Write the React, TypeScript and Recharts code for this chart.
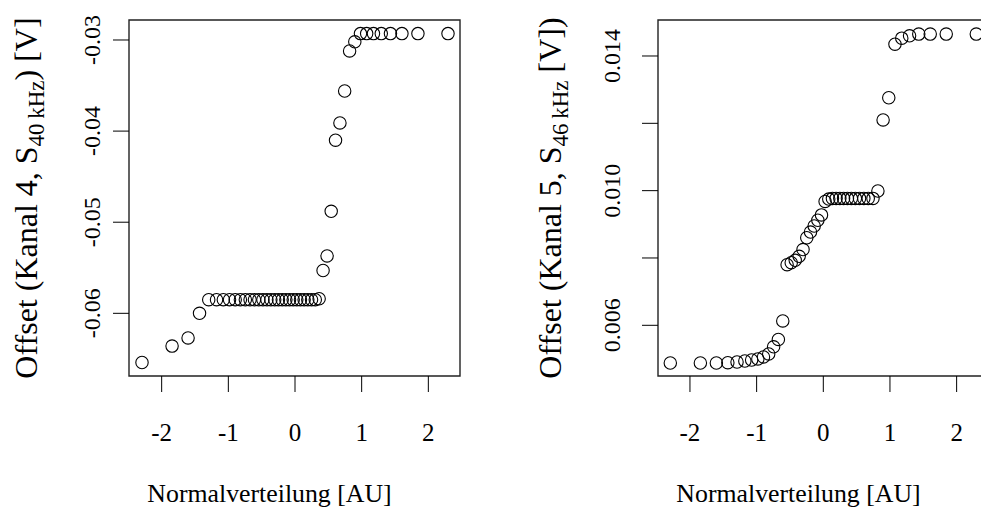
import React from "react";
import {
  ScatterChart,
  Scatter,
  XAxis,
  YAxis,
  ReferenceArea,
} from "recharts";

// theoretical normal quantiles (n = 46)
const quantiles = [
  -2.295, -1.844, -1.604, -1.432, -1.294, -1.177, -1.075, -0.982, -0.897, -0.819,
  -0.745, -0.674, -0.608, -0.543, -0.481, -0.421, -0.362, -0.304, -0.248, -0.192,
  -0.137, -0.082, -0.027, 0.027, 0.082, 0.137, 0.192, 0.248, 0.304, 0.362, 0.421,
  0.481, 0.543, 0.608, 0.674, 0.745, 0.819, 0.897, 0.982, 1.075, 1.177, 1.294,
  1.432, 1.604, 1.844, 2.295,
];

// sorted offsets, Kanal 4
const kanal4 = [
  -0.0654, -0.0636, -0.0627, -0.06, -0.0585, -0.0585, -0.0585, -0.0585, -0.0585,
  -0.0585, -0.0585, -0.0585, -0.0585, -0.0585, -0.0585, -0.0585, -0.0585, -0.0585,
  -0.0585, -0.0585, -0.0585, -0.0585, -0.0585, -0.0585, -0.0585, -0.0585, -0.0585,
  -0.0585, -0.0585, -0.0584, -0.0553, -0.0537, -0.0488, -0.041, -0.0391, -0.0356,
  -0.0312, -0.0302, -0.0293, -0.0293, -0.0293, -0.0293, -0.0293, -0.0293, -0.0293,
  -0.0293,
];

// sorted offsets, Kanal 5
const kanal5 = [
  0.00488, 0.00488, 0.00488, 0.00489, 0.00491, 0.00494, 0.00497, 0.005, 0.00506,
  0.00515, 0.00536, 0.00558, 0.00613, 0.0078, 0.00786, 0.00793, 0.00805, 0.00825,
  0.0086, 0.00877, 0.00895, 0.00912, 0.00928, 0.00968, 0.00975, 0.00977, 0.00977,
  0.00977, 0.00977, 0.00977, 0.00977, 0.00977, 0.00977, 0.00977, 0.00977, 0.00977,
  0.00999, 0.0121, 0.01276, 0.01435, 0.01453, 0.0146, 0.01465, 0.01465, 0.01465,
  0.01465,
];

const xTicks = [-2, -1, 0, 1, 2];
const yTicks4 = [-0.06, -0.05, -0.04, -0.03];
const yTicks5 = [0.006, 0.008, 0.01, 0.012, 0.014];
const yLabels5: Record<string, string> = { "0.006": "0.006", "0.01": "0.010", "0.014": "0.014" };

const FONT = "'Liberation Serif', 'Times New Roman', serif";
const FS = 24;

const data4 = quantiles.map((x, i) => ({ x, y: kanal4[i] }));
const data5 = quantiles.map((x, i) => ({ x, y: kanal5[i] }));

const ring = (p: any) => (
  <circle cx={p.cx} cy={p.cy} r={6.2} fill="none" stroke="#000" strokeWidth={1.1} />
);

const XTick = (p: any) => (
  <text x={p.x} y={p.y + 49} textAnchor="middle" fontFamily={FONT} fontSize={25} fill="#000">
    {p.payload.value}
  </text>
);

const makeYTick = (gap: number, fmt: (v: number) => string) => (p: any) => {
  const x = p.x - gap;
  return (
    <text
      x={x}
      y={p.y}
      transform={`rotate(-90 ${x} ${p.y})`}
      textAnchor="middle"
      fontFamily={FONT}
      fontSize={FS}
      fill="#000"
    >
      {fmt(p.payload.value)}
    </text>
  );
};

const xTitle = (props: any) => {
  const vb = props.viewBox;
  return (
    <text x={vb.x + vb.width / 2 - 25} y={502} textAnchor="middle" fontFamily={FONT} fontSize={25.8} fill="#000">
      Normalverteilung [AU]
    </text>
  );
};

const yTitle = (baseX: number, kanal: string, freq: string, tail: string) => (props: any) => {
  const vb = props.viewBox;
  const cy = vb.y + vb.height / 2;
  return (
    <text
      x={baseX}
      y={cy}
      transform={`rotate(-90 ${baseX} ${cy})`}
      textAnchor="middle"
      fontFamily={FONT}
      fontSize={32}
      fill="#000"
    >
      <tspan>{`Offset (Kanal ${kanal}, S`}</tspan>
      <tspan dy={7} fontSize={23}>{`${freq}\u2009kHz`}</tspan>
      <tspan dy={-7}>{tail}</tspan>
    </text>
  );
};

function QQPanel(props: {
  data: { x: number; y: number }[];
  width: number;
  yAxisWidth: number;
  right: number;
  xDomain: [number, number];
  yDomain: [number, number];
  yTicks: number[];
  yTick: any;
  title: any;
}) {
  const { data, width, yAxisWidth, right, xDomain, yDomain, yTicks, yTick, title } = props;
  return (
    <ScatterChart
      width={width}
      height={513}
      margin={{ top: 20, right, bottom: 0, left: 0 }}
    >
      <XAxis
        type="number"
        dataKey="x"
        domain={xDomain}
        ticks={xTicks}
        allowDataOverflow
        height={137}
        axisLine={false}
        tickSize={16}
        tickMargin={0}
        tickLine={{ stroke: "#000", strokeWidth: 1 }}
        tick={<XTick />}
        label={{ content: xTitle }}
      />
      <YAxis
        type="number"
        dataKey="y"
        domain={yDomain}
        ticks={yTicks}
        allowDataOverflow
        width={yAxisWidth}
        axisLine={false}
        tickSize={16}
        tickMargin={0}
        tickLine={{ stroke: "#000", strokeWidth: 1 }}
        tick={yTick}
        label={{ content: title }}
      />
      <ReferenceArea
        x1={xDomain[0]}
        x2={xDomain[1]}
        y1={yDomain[0]}
        y2={yDomain[1]}
        fill="none"
        stroke="#222"
        strokeWidth={1.4}
        fillOpacity={0}
        ifOverflow="visible"
      />
      <Scatter data={data} shape={ring} isAnimationActive={false} />
    </ScatterChart>
  );
}

export default function App() {
  return (
    <div
      style={{
        position: "fixed",
        left: 0,
        top: 0,
        width: 981,
        height: 513,
        overflow: "hidden",
        background: "#fff",
      }}
    >
      <div style={{ position: "absolute", left: 0, top: 0 }}>
        <QQPanel
          data={data4}
          width={490}
          yAxisWidth={129}
          right={30}
          xDomain={[-2.49, 2.475]}
          yDomain={[-0.06688, -0.027805]}
          yTicks={yTicks4}
          yTick={makeYTick(13, (v) => v.toFixed(2))}
          title={yTitle(37, "4", "40", ") [V]")}
        />
      </div>
      <div style={{ position: "absolute", left: 490, top: 0 }}>
        <QQPanel
          data={data5}
          width={510}
          yAxisWidth={168}
          right={11}
          xDomain={[-2.4795, 2.4855]}
          yDomain={[0.004494, 0.015069]}
          yTicks={yTicks5}
          yTick={makeYTick(22, (v) => yLabels5[String(v)] ?? "")}
          title={yTitle(71, "5", "46", " [V])")}
        />
      </div>
    </div>
  );
}
